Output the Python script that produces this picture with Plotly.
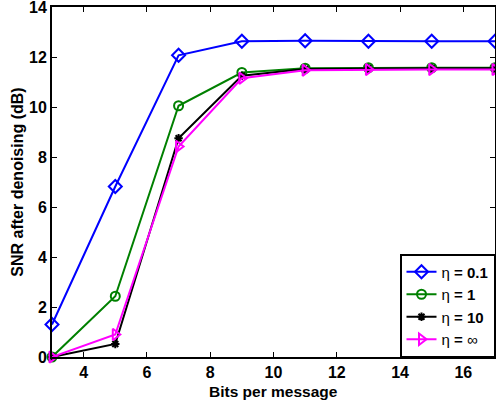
import plotly.graph_objects as go

bits = [3, 5, 7, 9, 11, 13, 15, 17]
snr_eta_01 = [1.3, 6.82, 12.07, 12.63, 12.65, 12.63, 12.63, 12.63]
snr_eta_1 = [0.0, 2.43, 10.05, 11.38, 11.55, 11.57, 11.57, 11.57]
snr_eta_10 = [0.0, 0.52, 8.75, 11.25, 11.52, 11.55, 11.55, 11.55]
snr_eta_inf = [0.0, 0.9, 8.42, 11.15, 11.47, 11.5, 11.5, 11.5]
eta_labels = ["0.1", "1", "10", "∞"]
x_ticks = [4, 6, 8, 10, 12, 14, 16]
y_ticks = [0, 2, 4, 6, 8, 10, 12, 14]

series = [
    (snr_eta_01, "#0000ff", "diamond-open", 10),
    (snr_eta_1, "#008000", "circle-open", 9),
    (snr_eta_10, "#000000", "asterisk-open", 7),
    (snr_eta_inf, "#ff00ff", "triangle-right-open", 10),
]

fig = go.Figure()
for (vals, col, sym, sz), lab in zip(series, eta_labels):
    nm = "η <b>= %s</b>" % lab if lab != "∞" else "η <b>=</b> ∞"
    fig.add_trace(go.Scatter(
        x=bits, y=vals, mode="lines+markers", name=nm,
        line=dict(color=col, width=2),
        marker=dict(symbol=sym, size=sz, color=col, line=dict(color=col, width=2)),
        cliponaxis=False,
    ))

font = "Liberation Sans, Arial, sans-serif"
fig.update_layout(
    width=496, height=403,
    margin=dict(l=52, r=1, t=7, b=46),
    paper_bgcolor="white", plot_bgcolor="white",
    font=dict(family=font, color="black", size=14),
    showlegend=True,
    legend=dict(
        x=1, y=0, xanchor="right", yanchor="bottom",
        bgcolor="white", bordercolor="black", borderwidth=1.5,
        font=dict(family=font, size=15, color="black"),
        tracegroupgap=0, itemwidth=30,
    ),
    xaxis=dict(
        range=[3, 17], tickvals=x_ticks, ticktext=["<b>%d</b>" % v for v in x_ticks],
        ticks="inside", ticklen=5, tickcolor="black",
        showline=True, linecolor="black", linewidth=2, mirror="ticks",
        showgrid=False, zeroline=False, automargin=False,
        ticklabeloverflow="allow",
        tickfont=dict(family=font, size=16),
    ),
    yaxis=dict(
        range=[0, 14], tickvals=y_ticks, ticktext=["<b>%d</b>" % v for v in y_ticks],
        ticks="inside", ticklen=5, tickcolor="black",
        showline=True, linecolor="black", linewidth=2, mirror="ticks",
        showgrid=False, zeroline=False, automargin=False,
        ticklabeloverflow="allow",
        tickfont=dict(family=font, size=16),
        title=dict(text="<b>SNR after denoising (dB)</b>", standoff=1,
                   font=dict(family=font, size=16)),
    ),
    annotations=[dict(
        text="<b>Bits per message</b>", xref="paper", yref="paper",
        x=0.5, y=-0.068, xanchor="center", yanchor="top", showarrow=False,
        font=dict(family=font, size=15.5, color="black"),
    )],
)

fig.write_html("out.html", config={"displayModeBar": False},
               post_script="document.body.style.margin='0';document.body.style.overflow='hidden';")
